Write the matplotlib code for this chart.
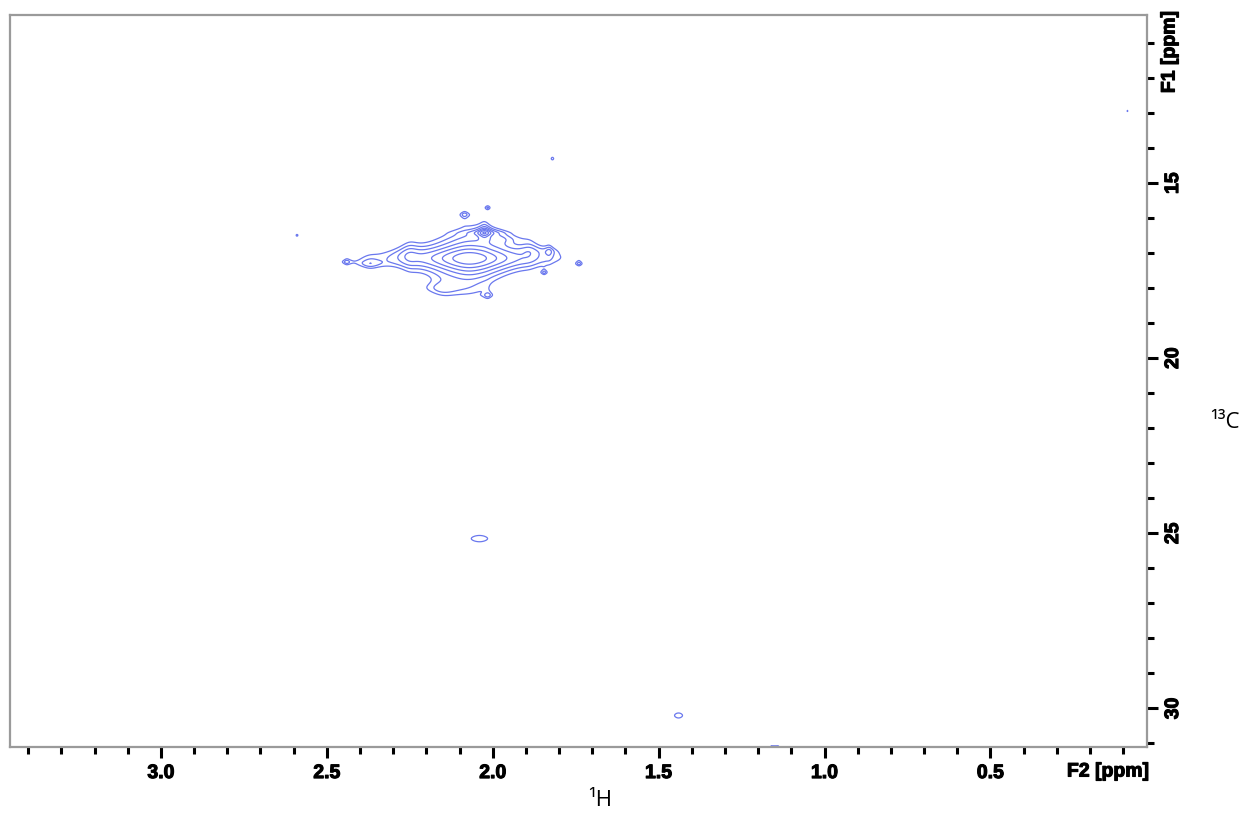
import numpy as np
import matplotlib
matplotlib.use("Agg")
import matplotlib.pyplot as plt
import matplotlib.patheffects as pe

# HSQC-Ausschnitt: Peakliste (F2 = 1H, F1 = 13C), Lorentz-Linienform
peak_f2 = [2.07, 2.025, 2.25, 1.89, 1.83, 2.37, 2.44, 1.74, 2.085, 2.015,
           2.015, 1.845, 2.15, 2.59, 1.82, 0.087, 2.04, 1.44, 1.15, 1.98]
peak_f1 = [17.15, 16.42, 17.05, 16.95, 16.95, 17.3, 17.25, 17.3, 15.9, 15.7,
           18.2, 17.55, 18.0, 16.49, 14.3, 12.94, 25.15, 30.2, 31.08, 16.6]
peak_amp = [20, 14, 3.0, 2.8, 2.6, 2.6, 2.4, 2.4, 2.5, 2.4,
            2.5, 2.4, 2.6, 2.3, 2.4, 2.2, 2.6, 2.6, 2.2, 2.6]
peak_w2 = [0.085, 0.015, 0.03, 0.03, 0.012, 0.03, 0.01, 0.008, 0.012, 0.008,
           0.012, 0.008, 0.05, 0.006, 0.008, 0.005, 0.044, 0.022, 0.04, 0.04]
peak_w1 = [0.28, 0.08, 0.25, 0.2, 0.12, 0.12, 0.06, 0.06, 0.08, 0.06,
           0.08, 0.06, 0.2, 0.06, 0.08, 0.06, 0.16, 0.13, 0.03, 0.15]
levels = [2.0, 2.8, 3.9, 5.5, 7.7, 10.8, 15.1]

f2_lim = (3.455, 0.028)
f1_lim = (31.1, 10.2)
x_major = [3.0, 2.5, 2.0, 1.5, 1.0, 0.5]
y_major = [15, 20, 25, 30]

f2 = np.linspace(f2_lim[0], f2_lim[1], 1400)
f1 = np.linspace(f1_lim[1], f1_lim[0], 900)
X, Y = np.meshgrid(f2, f1)
Z = np.zeros_like(X)
for a, b, amp, w2, w1 in zip(peak_f2, peak_f1, peak_amp, peak_w2, peak_w1):
    Z += amp / ((1 + ((X - a) / w2) ** 2) * (1 + ((Y - b) / w1) ** 2))

fig = plt.figure(figsize=(12.44, 8.25), dpi=100)
ax = fig.add_axes([10 / 1244, 1 - 747 / 825, 1137 / 1244, 732 / 825])
ax.contour(X, Y, Z, levels=levels, colors="#6a78ee", linewidths=0.9)
ax.set_xlim(*f2_lim)
ax.set_ylim(*f1_lim)

for s in ax.spines.values():
    s.set_color("#9a9a9a"); s.set_linewidth(1.6)

bold = dict(family="Liberation Sans", weight="bold", size=14)
stroke = [pe.withStroke(linewidth=0.8, foreground="black")]

ax.set_xticks(x_major)
ax.set_xticks(np.arange(0.1, 3.45, 0.1), minor=True)
ax.set_xticklabels([f"{v:.1f}" for v in x_major], fontdict=bold)
ax.yaxis.tick_right()
ax.set_yticks(y_major)
ax.set_yticks(range(11, 32), minor=True)
ax.set_yticklabels([str(v) for v in y_major], fontdict=bold, rotation=90, va="center")
ax.tick_params(which="major", length=8, width=2.2, color="black", pad=5)
ax.tick_params(which="minor", length=5, width=2.2, color="black")
ax.tick_params(axis="x", which="both", top=False)
ax.tick_params(axis="y", which="both", left=False, right=True)
for t in ax.get_xticklabels() + ax.get_yticklabels():
    t.set_path_effects(stroke)

fig.text(1108 / 1244, 1 - 772 / 825, "F2 [ppm]", ha="center", va="center",
         path_effects=stroke, **bold)
fig.text(1170 / 1244, 1 - 52 / 825, "F1 [ppm]", ha="center", va="center",
         rotation=90, path_effects=stroke, **bold)
fig.text(600 / 1244, 1 - 801 / 825, "¹H", ha="center", va="center",
         family="Open Sans", size=16)
fig.text(1225 / 1244, 1 - 423 / 825, "¹³C", ha="center", va="center",
         family="Open Sans", size=16)

fig.savefig("out.png", dpi=100)
